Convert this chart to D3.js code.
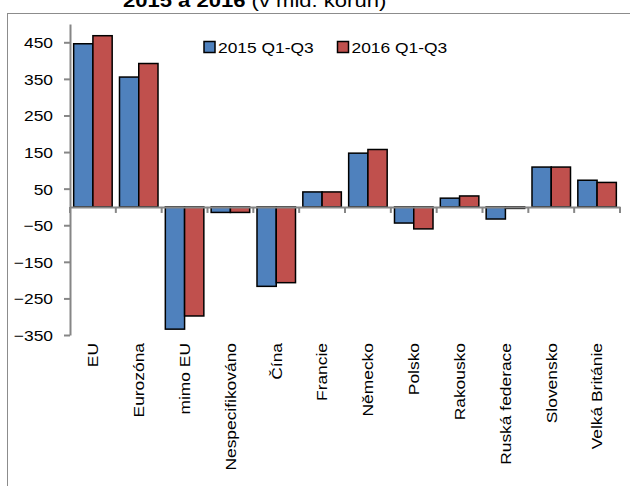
<!DOCTYPE html>
<html>
<head>
<meta charset="utf-8">
<script src="https://cdn.jsdelivr.net/npm/d3@7"></script>
<style>
  body { margin: 0; background: #fff; }
  text { font-family: "Liberation Sans", Arial, sans-serif; fill: #000; }
</style>
</head>
<body>
<script>
const categories = ['EU', 'Eurozóna', 'mimo EU', 'Nespecifikováno', 'Čína', 'Francie',
  'Německo', 'Polsko', 'Rakousko', 'Ruská federace', 'Slovensko', 'Velká Británie'];
const seriesNames = ['2015 Q1-Q3', '2016 Q1-Q3'];
const values2015 = [446, 355, -334, -15, -217, 41, 147, -44, 24, -33, 109, 73];
const values2016 = [468, 392, -298, -15, -207, 41, 157, -60, 30, -4, 109, 67];
const yTicks = [-350, -250, -150, -50, 50, 150, 250, 350, 450];
const colors = ['#4F81BD', '#C0504D'];

const w = 630;
const h = 486;
const sx = 1.16; // reference text is drawn slightly wide

const svg = d3.select('body').append('svg')
  .attr('width', w)
  .attr('height', h);

// outer chart frame
svg.append('rect')
  .attr('x', 7.5).attr('y', 13.5)
  .attr('width', 640).attr('height', 500)
  .attr('fill', 'none')
  .attr('stroke', '#8c8c8c')
  .attr('stroke-width', 1);

// title (top line cut off in the original)
const title = svg.append('text')
  .attr('transform', `translate(123,7) scale(${sx},1)`)
  .style('font-size', '19px');
title.append('tspan').style('font-weight', 'bold').text('2015 a 2016');
title.append('tspan').text(' (v mld. korun)');

const x = d3.scaleBand()
  .domain(categories)
  .range([70, 620])
  .paddingInner(0)
  .paddingOuter(0);

const x1 = d3.scaleBand()
  .domain(seriesNames)
  .range([0, x.bandwidth()])
  .paddingInner(0)
  .paddingOuter(0.19);

const y = d3.scaleLinear()
  .domain([-350, 500])
  .range([335, 24]);

const rows = categories.map((c, i) => ({ c, v: [values2015[i], values2016[i]] }));

// bars
const groups = svg.append('g').selectAll('g')
  .data(rows)
  .join('g')
  .attr('transform', d => `translate(${x(d.c)},0)`);

groups.selectAll('rect')
  .data(d => d.v.map((v, k) => ({ k, v })))
  .join('rect')
  .attr('x', d => x1(seriesNames[d.k]))
  .attr('y', d => y(Math.max(0, d.v)))
  .attr('width', x1.bandwidth())
  .attr('height', d => Math.abs(y(d.v) - y(0)))
  .attr('fill', d => colors[d.k])
  .attr('stroke', '#000')
  .attr('stroke-width', 1.5);

// y axis
const yAxis = d3.axisLeft(y)
  .tickValues(yTicks)
  .tickSize(6)
  .tickSizeOuter(0);

const gy = svg.append('g')
  .attr('transform', 'translate(70,0)')
  .call(yAxis);
gy.select('.domain').attr('stroke', '#868686').attr('stroke-width', 2);
gy.selectAll('.tick line').attr('stroke', '#868686').attr('stroke-width', 2);
gy.selectAll('.tick text')
  .attr('x', -17 / sx)
  .attr('dy', '0.36em')
  .attr('transform', `scale(${sx},1)`)
  .style('font-size', '15px')
  .style('font-family', '"Liberation Sans", Arial, sans-serif')
  .attr('fill', '#000');

// x axis along zero
const xAxis = d3.axisBottom(x)
  .tickSize(0)
  .tickSizeOuter(0)
  .tickFormat('');

const gx = svg.append('g')
  .attr('transform', `translate(0,${y(0)})`)
  .call(xAxis);
gx.select('.domain').attr('stroke', '#868686').attr('stroke-width', 2);

// tick marks at category boundaries
const bounds = categories.map(c => x(c) + x.bandwidth()).concat([x.range()[0]]);
gx.selectAll('line.bound')
  .data(bounds)
  .join('line')
  .attr('class', 'bound')
  .attr('x1', d => d).attr('x2', d => d)
  .attr('y1', 0).attr('y2', 6)
  .attr('stroke', '#868686')
  .attr('stroke-width', 2);

// category labels
svg.append('g').selectAll('text')
  .data(categories)
  .join('text')
  .attr('transform', d => `translate(${x(d) + x.bandwidth() / 2},343) rotate(-90) scale(${sx},1)`)
  .attr('text-anchor', 'end')
  .attr('dy', '0.35em')
  .style('font-size', '15px')
  .text(d => d);

// legend
const legendX = [204, 337.5];
const legend = svg.append('g').selectAll('g')
  .data(seriesNames)
  .join('g')
  .attr('transform', (d, i) => `translate(${legendX[i]},41.5)`);

legend.append('rect')
  .attr('width', 11).attr('height', 11)
  .attr('fill', (d, i) => colors[i])
  .attr('stroke', '#000')
  .attr('stroke-width', 1.5);

legend.append('text')
  .attr('transform', `translate(14,11) scale(${sx},1)`)
  .style('font-size', '15px')
  .text(d => d);
</script>
</body>
</html>
